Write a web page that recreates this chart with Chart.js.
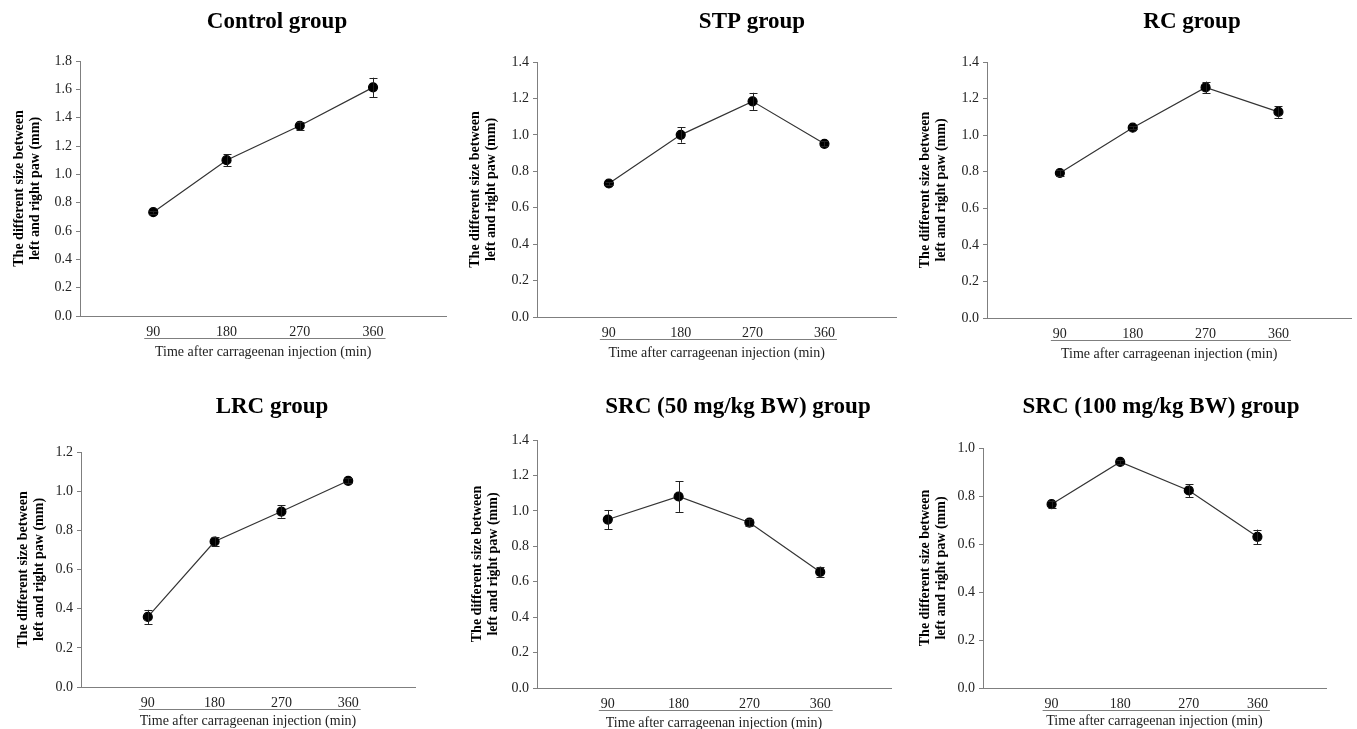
<!DOCTYPE html>
<html>
<head>
<meta charset="utf-8">
<script src="https://cdn.jsdelivr.net/npm/chart.js@4.4.1/dist/chart.umd.min.js"></script>
<style>
  html, body { margin: 0; padding: 0; background: #fff; }
  body { width: 1357px; height: 729px; position: relative; overflow: hidden; }
  canvas { position: absolute; }
</style>
</head>
<body>
<canvas id="c1"></canvas>
<canvas id="c2"></canvas>
<canvas id="c3"></canvas>
<canvas id="c4"></canvas>
<canvas id="c5"></canvas>
<canvas id="c6"></canvas>
<script>
// time points (min)
const times = [90, 180, 270, 360];

const titles = ['Control group', 'STP group', 'RC group', 'LRC group', 'SRC (50 mg/kg BW) group', 'SRC (100 mg/kg BW) group'];

// mean paw size difference (mm) and error
const controlMean = [0.733, 1.100, 1.343, 1.614];
const controlErr  = [0.010, 0.042, 0.029, 0.068];
const stpMean     = [0.733, 1.000, 1.184, 0.951];
const stpErr      = [0.008, 0.043, 0.047, 0.014];
const rcMean      = [0.793, 1.041, 1.261, 1.127];
const rcErr       = [0.015, 0.008, 0.032, 0.032];
const lrcMean     = [0.358, 0.743, 0.896, 1.053];
const lrcErr      = [0.036, 0.025, 0.031, 0.012];
const src50Mean   = [0.951, 1.081, 0.934, 0.655];
const src50Err    = [0.054, 0.087, 0.018, 0.030];
const src100Mean  = [0.766, 0.942, 0.823, 0.630];
const src100Err   = [0.015, 0.008, 0.027, 0.030];

const yMaxes = [1.8, 1.4, 1.4, 1.2, 1.4, 1.0];

const yTitle = ['The different size between', 'left and right paw (mm)'];
const xTitle = 'Time after carrageenan injection (min)';

// panel boxes and plot areas (page pixels)
const panels = [
  { box: [0, 0, 452, 365],     area: [80, 61, 447, 316],   title: [277, 28],   yTitleX: 19, xTitleY: 352 },
  { box: [452, 0, 450, 365],   area: [537, 62, 897, 317],  title: [752, 28],   yTitleX: 23, xTitleY: 353 },
  { box: [902, 0, 455, 365],   area: [987, 62, 1355, 318], title: [1192, 28],  yTitleX: 23, xTitleY: 354 },
  { box: [0, 365, 452, 364],   area: [81, 452, 415, 687],  title: [272, 413],  yTitleX: 23, xTitleY: 721 },
  { box: [452, 365, 450, 364], area: [537, 440, 891, 688], title: [738, 413],  yTitleX: 25, xTitleY: 723 },
  { box: [902, 365, 455, 364], area: [983, 448, 1326, 688], title: [1161, 413], yTitleX: 23, xTitleY: 721 }
];

const series = [
  [controlMean, controlErr],
  [stpMean, stpErr],
  [rcMean, rcErr],
  [lrcMean, lrcErr],
  [src50Mean, src50Err],
  [src100Mean, src100Err]
];

const serif = '"Liberation Serif", "Times New Roman", serif';
const axisColor = '#7f7f7f';
const textColor = '#222';

const errorBars = {
  id: 'errorBars',
  afterDatasetsDraw(chart, args, opts) {
    const ctx = chart.ctx;
    const xs = chart.scales.x, ys = chart.scales.y;
    const ds = chart.data.datasets[0];
    ctx.save();
    ctx.strokeStyle = '#222';
    ctx.lineWidth = 1;
    ds.data.forEach((p, i) => {
      const e = opts.errors[i];
      const px = Math.round(xs.getPixelForValue(p.x)) + 0.5;
      const top = ys.getPixelForValue(p.y + e);
      const bot = ys.getPixelForValue(p.y - e);
      ctx.beginPath();
      ctx.moveTo(px, top); ctx.lineTo(px, bot);
      ctx.moveTo(px - 4, Math.round(top) + 0.5); ctx.lineTo(px + 4, Math.round(top) + 0.5);
      ctx.moveTo(px - 4, Math.round(bot) + 0.5); ctx.lineTo(px + 4, Math.round(bot) + 0.5);
      ctx.stroke();
    });
    ctx.restore();
  }
};

const extras = {
  id: 'extras',
  afterDraw(chart, args, opts) {
    const ctx = chart.ctx;
    const xs = chart.scales.x;
    ctx.save();
    // panel title
    ctx.font = 'bold 23px ' + serif;
    ctx.fillStyle = '#000';
    ctx.textAlign = 'center';
    ctx.textBaseline = 'alphabetic';
    ctx.fillText(opts.title, opts.titleX, opts.titleY);
    // underline below the time labels
    ctx.font = '14px ' + serif;
    const first = xs.ticks[0].value, last = xs.ticks[xs.ticks.length - 1].value;
    const wFirst = ctx.measureText(String(first)).width;
    const wLast = ctx.measureText(String(last)).width;
    const x0 = xs.getPixelForValue(first) - wFirst / 2 - 2;
    const x1 = xs.getPixelForValue(last) + wLast / 2 + 2;
    const y = Math.round(chart.chartArea.bottom + 22) + 0.5;
    ctx.strokeStyle = axisColor;
    ctx.lineWidth = 1;
    ctx.beginPath();
    ctx.moveTo(x0, y); ctx.lineTo(x1, y);
    ctx.stroke();
    ctx.restore();
  }
};

panels.forEach((pn, idx) => {
  const [bx, by, bw, bh] = pn.box;
  const [al, at, ar, ab] = pn.area;
  const canvas = document.getElementById('c' + (idx + 1));
  canvas.width = bw; canvas.height = bh;
  canvas.style.left = bx + 'px'; canvas.style.top = by + 'px';
  canvas.style.width = bw + 'px'; canvas.style.height = bh + 'px';

  const [means, errs] = series[idx];
  const yLineH = 14 * 1.15;
  const xLineH = 14 * 1.2;

  new Chart(canvas.getContext('2d'), {
    type: 'line',
    data: {
      datasets: [{
        data: times.map((t, i) => ({ x: t, y: means[i] })),
        borderColor: '#333',
        borderWidth: 1.2,
        backgroundColor: '#000',
        pointBackgroundColor: '#000',
        pointBorderColor: '#000',
        pointRadius: 4.5,
        pointHoverRadius: 4.5,
        tension: 0
      }]
    },
    options: {
      responsive: false,
      animation: false,
      events: [],
      layout: { padding: { left: 0, top: at - by, right: (bx + bw) - ar, bottom: 0 } },
      plugins: {
        legend: { display: false },
        tooltip: { enabled: false },
        errorBars: { errors: errs },
        extras: { title: titles[idx], titleX: pn.title[0] - bx, titleY: pn.title[1] - by }
      },
      scales: {
        x: {
          type: 'linear',
          min: 0,
          max: 450,
          afterBuildTicks: scale => { scale.ticks = times.map(v => ({ value: v })); },
          afterFit: scale => { scale.height = (by + bh) - ab; },
          grid: { display: false, drawTicks: false, tickLength: 0 },
          border: { display: true, color: axisColor, width: 1 },
          ticks: {
            font: { family: serif, size: 14 },
            color: textColor,
            padding: 8,
            maxRotation: 0,
            autoSkip: false
          },
          title: {
            display: true,
            text: xTitle,
            font: { family: serif, size: 14 },
            color: textColor,
            padding: { top: 0, bottom: (by + bh) - pn.xTitleY - xLineH / 2 }
          }
        },
        y: {
          min: 0,
          max: yMaxes[idx],
          afterFit: scale => { scale.width = al - bx; },
          grid: { display: true, drawOnChartArea: false, drawTicks: true, tickLength: 4, color: axisColor },
          border: { display: true, color: axisColor, width: 1 },
          ticks: {
            stepSize: 0.2,
            font: { family: serif, size: 14 },
            color: textColor,
            padding: 4,
            callback: v => v.toFixed(1)
          },
          title: {
            display: true,
            text: yTitle,
            font: { family: serif, size: 14, weight: 'bold', lineHeight: 1.15 },
            color: '#000',
            padding: { top: pn.yTitleX - yLineH / 2, bottom: 0 }
          }
        }
      }
    },
    plugins: [errorBars, extras]
  });
});
</script>
</body>
</html>
